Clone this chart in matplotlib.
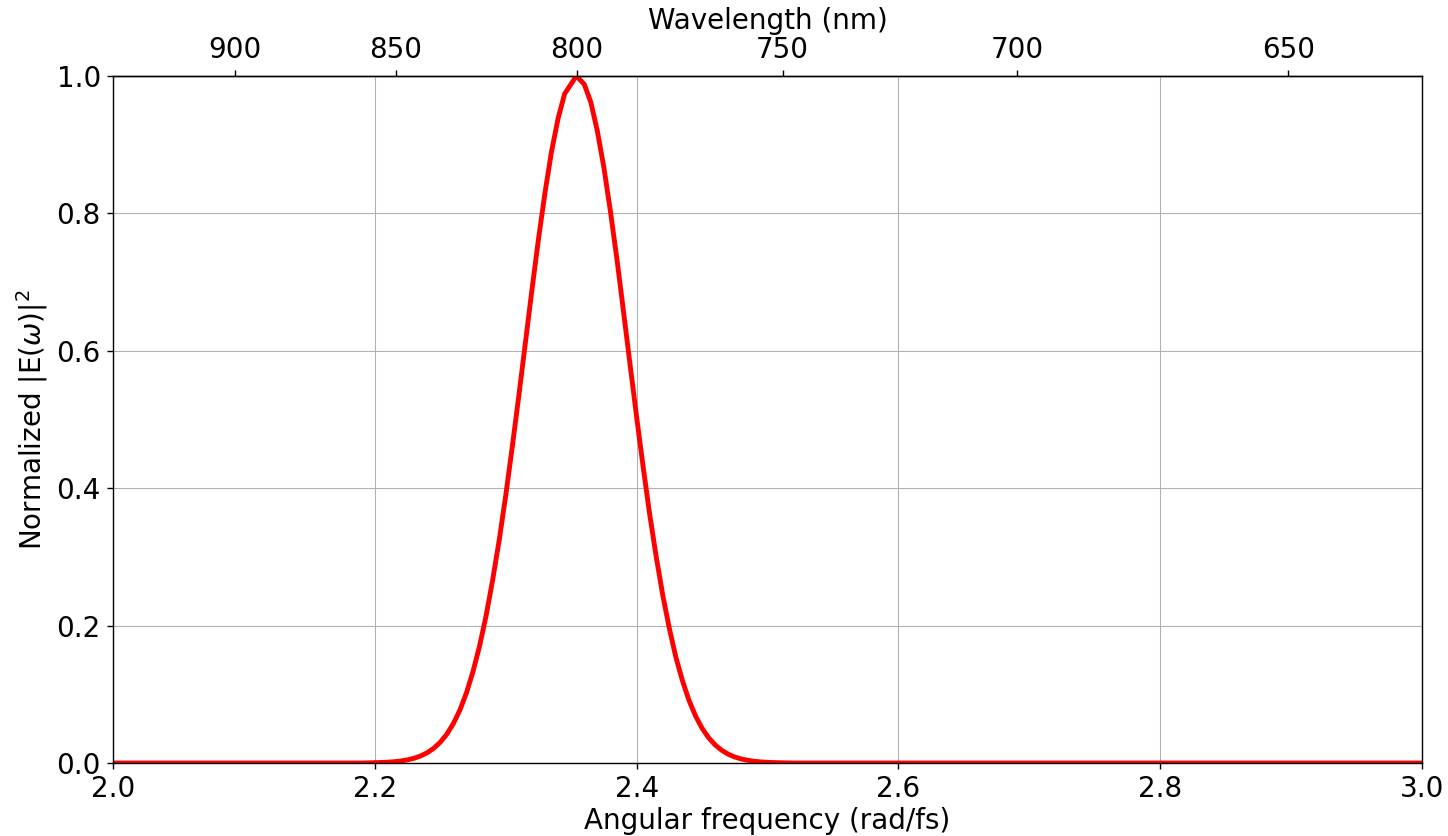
import matplotlib
matplotlib.use("Agg")
import matplotlib.pyplot as plt
import numpy as np

# spectrum (angular frequency in rad/fs, normalized intensity)
omega = [2.00, 2.19, 2.20, 2.205, 2.21, 2.215, 2.22, 2.225, 2.23, 2.235,
         2.24, 2.245, 2.25, 2.255, 2.26, 2.265, 2.27, 2.275, 2.28, 2.285,
         2.29, 2.295, 2.30, 2.305, 2.31, 2.315, 2.32, 2.325, 2.33, 2.335,
         2.34, 2.345, 2.354, 2.36, 2.365, 2.37, 2.375, 2.38, 2.385, 2.39,
         2.395, 2.40, 2.405, 2.41, 2.415, 2.42, 2.425, 2.43, 2.435, 2.44,
         2.445, 2.45, 2.455, 2.46, 2.465, 2.47, 2.475, 2.48, 2.485, 2.49,
         2.495, 2.50, 2.505, 2.51, 2.52, 3.00]
intensity = [0.0, 0.0, 0.0005, 0.0008, 0.0012, 0.0019, 0.003, 0.0046, 0.0069,
             0.0102, 0.0149, 0.0214, 0.0302, 0.0419, 0.0573, 0.077, 0.102,
             0.133, 0.170, 0.214, 0.266, 0.324, 0.389, 0.460, 0.534, 0.611,
             0.688, 0.762, 0.830, 0.890, 0.938, 0.974, 1.0, 0.988, 0.962,
             0.920, 0.867, 0.803, 0.733, 0.657, 0.580, 0.504, 0.431, 0.362,
             0.300, 0.244, 0.196, 0.154, 0.120, 0.0913, 0.0685, 0.0506,
             0.0368, 0.0263, 0.0185, 0.0128, 0.0087, 0.0059, 0.0039, 0.0025,
             0.0016, 0.001, 0.0006, 0.0004, 0.0, 0.0]

wl_ticks = [900, 850, 800, 750, 700, 650]
c_nm_fs = 299.792458  # speed of light in nm/fs


def w2l(w):
    w = np.asarray(w, dtype=float)
    with np.errstate(divide='ignore'):
        return 2 * np.pi * c_nm_fs / w


def l2w(l):
    l = np.asarray(l, dtype=float)
    with np.errstate(divide='ignore'):
        return 2 * np.pi * c_nm_fs / l


def main():
    fs = 16
    fig = plt.figure(figsize=(1448 / 125, 836 / 125), dpi=125)
    ax = fig.add_axes([113 / 1448, 1 - 763 / 836, 1309 / 1448, 687 / 836])

    ax.plot(omega, intensity, color='red', lw=2.8)
    ax.set_xlim(2.0, 3.0)
    ax.set_ylim(0.0, 1.0)
    ax.grid(True, color='#b0b0b0', lw=0.6)
    ax.set_xlabel('Angular frequency (rad/fs)', fontsize=fs, labelpad=2)
    ax.set_ylabel(r'Normalized |E($\omega$)|$^2$', fontsize=fs)
    ax.tick_params(labelsize=fs)

    top = ax.secondary_xaxis('top', functions=(w2l, l2w))
    top.set_xticks(wl_ticks)
    top.set_xlabel('Wavelength (nm)', fontsize=fs)
    top.tick_params(labelsize=fs)

    fig.savefig('out.png', dpi=125)


if __name__ == '__main__':
    main()
